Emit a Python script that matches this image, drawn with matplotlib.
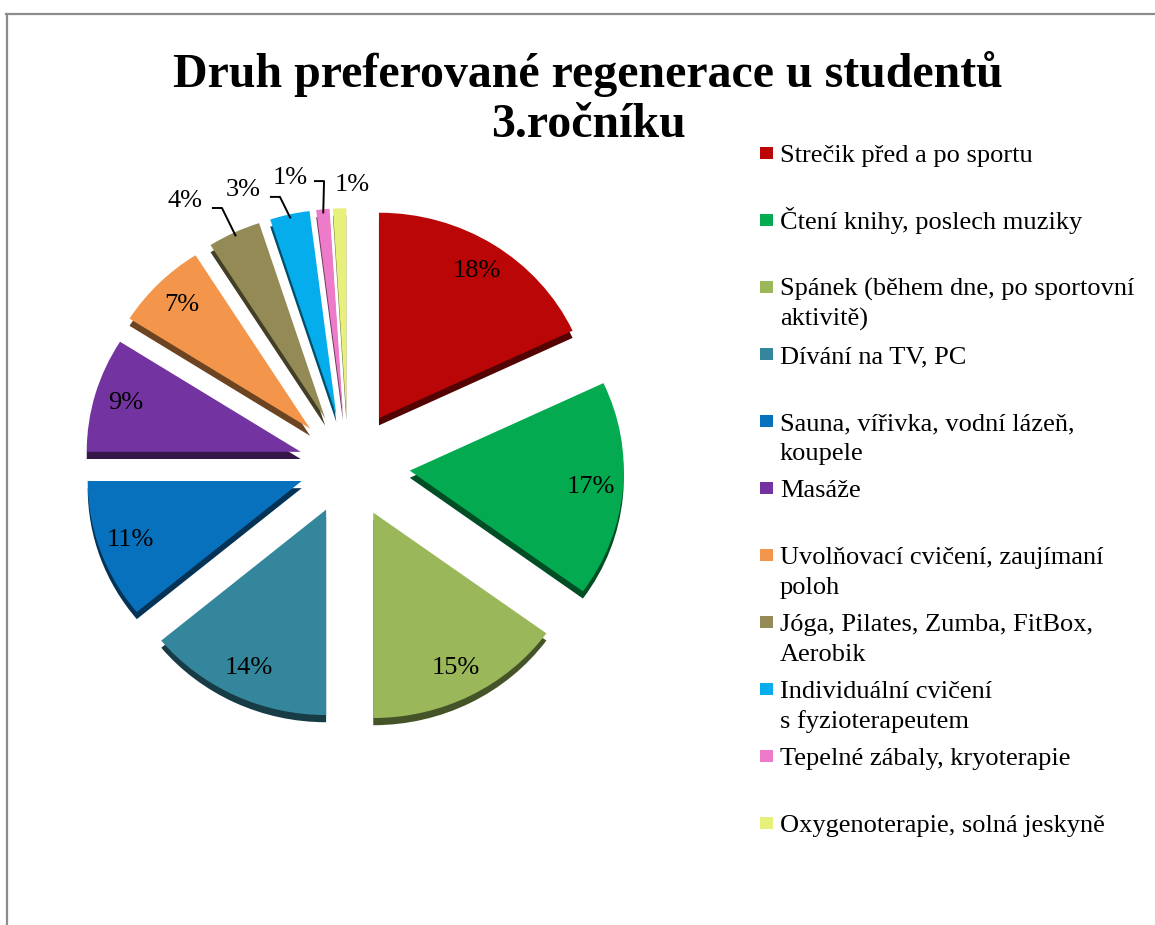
import numpy as np
import matplotlib.pyplot as plt
from matplotlib.colors import to_rgb
from matplotlib.patches import Rectangle
from matplotlib.lines import Line2D

plt.rcParams['font.family'] = ['Liberation Serif', 'DejaVu Serif']

title_lines = ["Druh preferované regenerace u studentů", "3.ročníku"]
categories = [
    "Strečik před a po sportu",
    "Čtení knihy, poslech muziky",
    "Spánek (během dne, po sportovní\naktivitě)",
    "Dívání na TV, PC",
    "Sauna, vířivka, vodní lázeň,\nkoupele",
    "Masáže",
    "Uvolňovací cvičení, zaujímaní\npoloh",
    "Jóga, Pilates, Zumba, FitBox,\nAerobik",
    "Individuální cvičení\ns fyzioterapeutem",
    "Tepelné zábaly, kryoterapie",
    "Oxygenoterapie, solná jeskyně",
]
shares = [18, 17, 15, 14, 11, 9, 7, 4, 3, 1, 1]
colors = ["#BA0606", "#03AA50", "#9AB85A", "#33869B", "#0871BE", "#7333A0",
          "#F3964B", "#948A55", "#06ADEC", "#EE7BC9", "#E8F07C"]

W, H = 1155, 925
fig = plt.figure(figsize=(W / 100, H / 100), dpi=100)

# pie axes in pixel terms: one data unit = pie radius, slightly flattened vertically
R_PX = 214
TILT = 0.96
cx, cy = 348, 465
span = 1.5
ax = fig.add_axes([(cx - span * R_PX) / W, (H - cy - span * R_PX) / H,
                   2 * span * R_PX / W, 2 * span * R_PX / H])

explode = [0.27, 0.29, 0.26, 0.24, 0.23, 0.23, 0.25, 0.25, 0.25, 0.25, 0.25]
dark = [tuple(c * 0.45 for c in to_rgb(col)) for col in colors]

# side walls: the same pie in darker tones, pushed down a little
ax.pie(shares, colors=dark, startangle=90, counterclock=False,
       explode=explode, center=(0, -0.035), wedgeprops=dict(linewidth=0))
wedges, _ = ax.pie(shares, colors=colors, startangle=90, counterclock=False,
                   explode=explode, wedgeprops=dict(linewidth=0))
ax.set_aspect('auto')
ax.set_xlim(-span, span)
ax.set_ylim(-span / TILT, span / TILT)
ax.axis('off')

# small slices get their labels outside, with leader lines
outside_pos = {7: (-0.762, 1.285), 8: (-0.491, 1.339), 9: (-0.271, 1.397), 10: (0.019, 1.363)}
leader = {7: (0.126, -0.034), 8: (0.126, -0.034), 9: (0.112, -0.015)}

for i, (w, v) in enumerate(zip(wedges, shares)):
    mid = np.deg2rad((w.theta1 + w.theta2) / 2)
    x0, y0 = w.center
    if i not in outside_pos:
        ax.text(x0 + 0.85 * np.cos(mid), y0 + 0.85 * np.sin(mid), f"{v}%",
                ha='center', va='center', fontsize=19)
        continue
    lx, ly = outside_pos[i]
    ax.text(lx, ly, f"{v}%", ha='center', va='center', fontsize=19)
    if i in leader:
        dx, dy = leader[i]
        sx, sy = lx + dx, ly + dy
        ex, ey = x0 + 0.98 * np.cos(mid), y0 + 0.98 * np.sin(mid)
        ax.plot([sx, sx + 0.047, ex], [sy, sy, ey],
                color='black', lw=1.4, solid_capstyle='butt')

# title
fig.text(588 / W, 1 - 87 / H, title_lines[0], ha='center', va='baseline',
         fontsize=34.5, fontweight='bold')
fig.text(588 / W, 1 - 137 / H, title_lines[1], ha='center', va='baseline',
         fontsize=34.5, fontweight='bold')

# legend, one slot per category
leg_x, leg_y0, leg_step, line_h = 780, 162, 67, 30
for i, (lab, col) in enumerate(zip(categories, colors)):
    base = leg_y0 + i * leg_step
    fig.patches.append(Rectangle((760 / W, (H - base + 3) / H), 13 / W, 12 / H,
                                 transform=fig.transFigure, facecolor=col,
                                 edgecolor='none'))
    for k, line in enumerate(lab.split("\n")):
        fig.text(leg_x / W, 1 - (base + k * line_h) / H, line, fontsize=19,
                 va='baseline', ha='left')

# chart area border (top and left edges)
fig.lines.append(Line2D([6 / W, 1], [1 - 14 / H, 1 - 14 / H], transform=fig.transFigure,
                        color='#8c8c8c', lw=1.6))
fig.lines.append(Line2D([7 / W, 7 / W], [1 - 14 / H, 0], transform=fig.transFigure,
                        color='#8c8c8c', lw=1.6))

fig.savefig('out.png', dpi=100)
